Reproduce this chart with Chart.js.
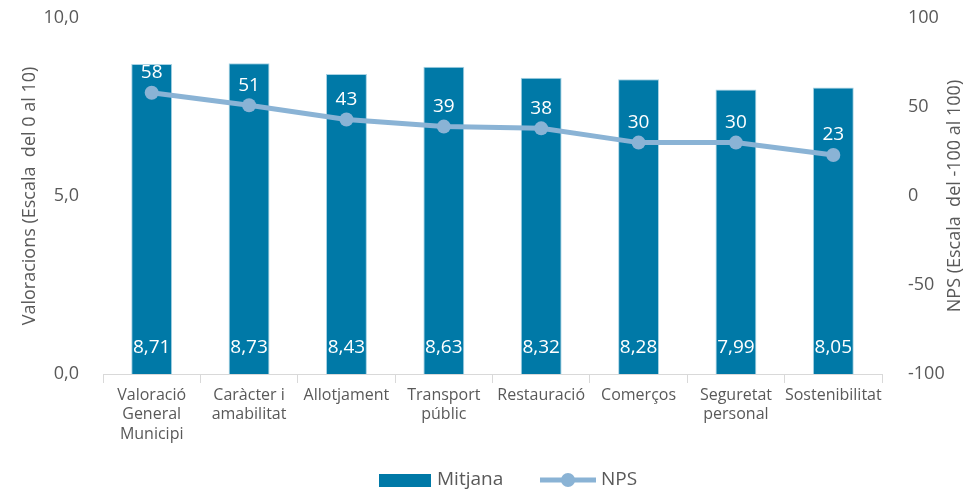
<!DOCTYPE html>
<html>
<head>
<meta charset="utf-8">
<script src="https://cdn.jsdelivr.net/npm/chart.js@4"></script>
<style>
  html, body { margin: 0; padding: 0; background: #fff; }
  #wrap { width: 973px; height: 489px; }
</style>
</head>
<body>
<div id="wrap"><canvas id="npsChart" width="973" height="489"></canvas></div>
<script>
const categories = [
    ['Valoració', 'General', 'Municipi'],
    ['Caràcter i', 'amabilitat'],
    'Allotjament',
    ['Transport', 'públic'],
    'Restauració',
    'Comerços',
    ['Seguretat', 'personal'],
    'Sostenibilitat'
];
const mitjana = [8.71, 8.73, 8.43, 8.63, 8.32, 8.28, 7.99, 8.05];
const nps = [58, 51, 43, 39, 38, 30, 30, 23];
const leftTicks = [0, 5, 10];
const rightTicks = [-100, -50, 0, 50, 100];

const FONT = "'Open Sans', 'Noto Sans', sans-serif";
const TEXT = '#595959';
const BAR = '#0079a7';
const LINE = '#8ab3d5';

const fmt = v => v.toFixed(2).replace('.', ',');

// value labels on bars (bottom) and on the NPS points (above)
const valueLabels = {
    id: 'valueLabels',
    afterDatasetsDraw(chart) {
        const ctx = chart.ctx;
        const area = chart.chartArea;
        ctx.save();
        ctx.fillStyle = '#fff';
        ctx.textAlign = 'center';
        ctx.textBaseline = 'middle';
        ctx.font = '19px ' + FONT;
        chart.getDatasetMeta(0).data.forEach((bar, i) => {
            ctx.fillText(fmt(mitjana[i]), bar.x, area.bottom - 26);
        });
        chart.getDatasetMeta(1).data.forEach((pt, i) => {
            ctx.fillText(String(nps[i]), pt.x, pt.y - 20);
        });
        ctx.restore();
    }
};

// vertical axis titles, both read bottom to top
const axisTitles = {
    id: 'axisTitles',
    afterDraw(chart) {
        const ctx = chart.ctx;
        const area = chart.chartArea;
        const midY = (area.top + area.bottom) / 2;
        ctx.save();
        ctx.fillStyle = TEXT;
        ctx.font = '18px ' + FONT;
        ctx.textAlign = 'center';
        ctx.textBaseline = 'middle';
        [[30, 'Valoracions (Escala  del 0 al 10)'], [955, 'NPS (Escala  del -100 al 100)']].forEach(([x, t]) => {
            ctx.save();
            ctx.translate(x, midY);
            ctx.rotate(-Math.PI / 2);
            ctx.fillText(t, 0, 0);
            ctx.restore();
        });
        ctx.restore();
    }
};

// legend drawn under the axis labels
const bottomLegend = {
    id: 'bottomLegend',
    afterDraw(chart) {
        const ctx = chart.ctx;
        const y = 480;
        ctx.save();
        ctx.fillStyle = BAR;
        ctx.fillRect(379, y - 6, 52, 13);
        ctx.strokeStyle = LINE;
        ctx.lineWidth = 5;
        ctx.beginPath();
        ctx.moveTo(540, y);
        ctx.lineTo(596, y);
        ctx.stroke();
        ctx.fillStyle = LINE;
        ctx.beginPath();
        ctx.arc(568, y, 7, 0, Math.PI * 2);
        ctx.fill();
        ctx.fillStyle = TEXT;
        ctx.font = '19px ' + FONT;
        ctx.textBaseline = 'middle';
        ctx.textAlign = 'left';
        ctx.fillText('Mitjana', 437, y);
        ctx.fillText('NPS', 601, y);
        ctx.restore();
    }
};

// fixed widths and no extra label padding so the plot box stays put
const fitVertical = width => scale => {
    scale.width = width;
    scale.paddingTop = 0;
    scale.paddingBottom = 0;
};

new Chart(document.getElementById('npsChart'), {
    data: {
        labels: categories,
        datasets: [
            {
                type: 'bar',
                label: 'Mitjana',
                data: mitjana,
                backgroundColor: BAR,
                borderColor: '#a9d3e4',
                borderWidth: 1,
                borderSkipped: 'bottom',
                barPercentage: 0.42,
                categoryPercentage: 1,
                yAxisID: 'y',
                order: 2
            },
            {
                type: 'line',
                label: 'NPS',
                data: nps,
                borderColor: LINE,
                backgroundColor: LINE,
                borderWidth: 5,
                pointRadius: 7,
                pointBackgroundColor: LINE,
                pointBorderWidth: 0,
                tension: 0,
                yAxisID: 'y1',
                order: 1
            }
        ]
    },
    options: {
        responsive: false,
        animation: false,
        layout: { padding: { top: 18, left: 0, right: 0, bottom: 0 } },
        plugins: {
            legend: { display: false },
            tooltip: { enabled: false }
        },
        scales: {
            x: {
                grid: {
                    display: true,
                    drawOnChartArea: false,
                    offset: true,
                    tickLength: 9,
                    color: '#d9d9d9'
                },
                border: { display: true, color: '#d9d9d9', width: 1 },
                ticks: {
                    color: TEXT,
                    font: { family: FONT, size: 16 },
                    maxRotation: 0,
                    autoSkip: false,
                    padding: 3
                },
                afterFit(scale) {
                    scale.height = 115;
                    scale.paddingLeft = 0;
                    scale.paddingRight = 0;
                }
            },
            y: {
                position: 'left',
                min: leftTicks[0],
                max: leftTicks[leftTicks.length - 1],
                afterBuildTicks(scale) { scale.ticks = leftTicks.map(v => ({ value: v })); },
                grid: { display: false },
                border: { display: false },
                ticks: {
                    color: TEXT,
                    font: { family: FONT, size: 18 },
                    padding: 16,
                    callback: v => v.toFixed(1).replace('.', ',')
                },
                afterFit: fitVertical(103)
            },
            y1: {
                position: 'right',
                min: rightTicks[0],
                max: rightTicks[rightTicks.length - 1],
                afterBuildTicks(scale) { scale.ticks = rightTicks.map(v => ({ value: v })); },
                grid: { display: false },
                border: { display: false },
                ticks: {
                    color: TEXT,
                    font: { family: FONT, size: 18 },
                    padding: 18
                },
                afterFit: fitVertical(91)
            }
        }
    },
    plugins: [valueLabels, axisTitles, bottomLegend]
});
</script>
</body>
</html>
